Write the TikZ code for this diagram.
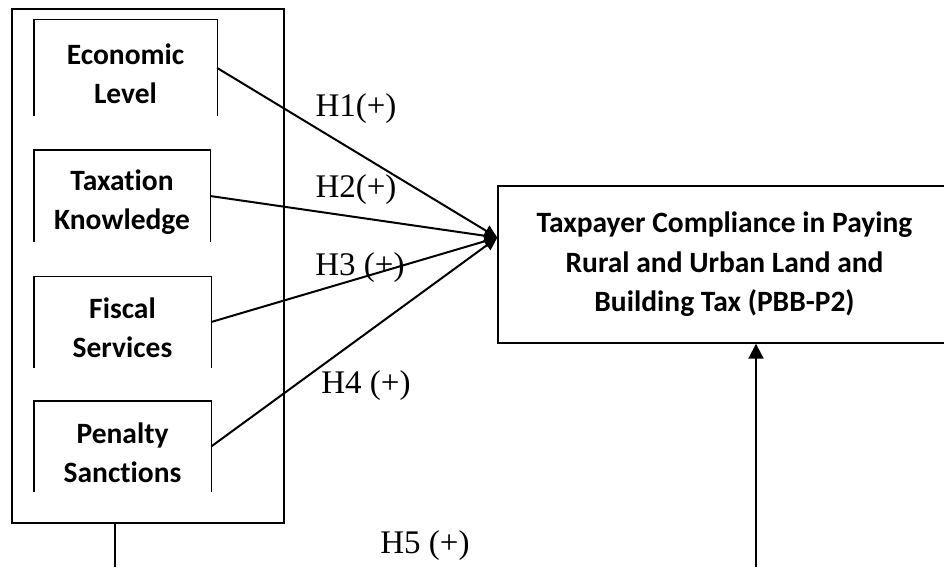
\documentclass[tikz,border=0pt]{standalone}
\usepackage{fontspec}
\setmainfont{Liberation Serif}
\newfontfamily\boxfont[Ligatures=CommonOff]{Carlito}
\usetikzlibrary{calc,arrows.meta,positioning}
\tikzset{
  var/.style={minimum width=177pt, minimum height=103pt, inner sep=0pt, align=center,
    font=\boxfont\bfseries\fontsize{29.5}{39}\selectfont}, % variable box, open at the bottom
  dep/.style={draw, line width=1.4pt, minimum width=453pt, minimum height=157pt, inner sep=0pt,
    align=center, font=\boxfont\bfseries\fontsize{29.5}{39.5}\selectfont},
  hyp/.style={anchor=base, inner sep=0pt, font=\fontsize{33}{36}\selectfont},
  link/.style={line width=2pt, -{Triangle[length=13pt,width=12pt]}},
}

\begin{document}
\begin{tikzpicture}[x=1pt,y=-1pt]
\clip (0,0) rectangle (944,567);
%\draw [help lines,step=50] (0,0) grid (944,567);
\node[draw, line width=1.4pt, minimum width=272pt, minimum height=514pt, inner sep=0pt] (ind) at (148,266) {};
% boxes are 12pt taller than drawn, so the text sits a bit low
\node[var, minimum width=183pt, minimum height=108pt] (eco) at (125.5,74) {Economic\\Level};
\node[var, minimum width=176pt, minimum height=104pt] (tax) at (122,202) {Taxation\\Knowledge};
\node[var] (fis) at (122.5,328) {Fiscal\\Services};
\node[var] (pen) at (122.5,452.5) {Penalty\\Sanctions};
\foreach \v in {eco,tax,fis,pen}
  \draw[line width=1.4pt] ($(\v.south west)+(0,-12)$) |- (\v.north east) -- ($(\v.south east)+(0,-12)$);
\node[dep] (tgt) at (724.5,264.5) {Taxpayer Compliance in Paying\\Rural and Urban Land and\\Building Tax (PBB-P2)};
\coordinate (hub) at ($(tgt.north west)!0.33!(tgt.south west)$);
\foreach \v in {eco,tax,fis,pen}
  \draw[link] ($(\v.east)+(0,-6)$) -- (hub);
% H5 runs below the frame
\coordinate (out) at (115,567);
\coordinate (up) at (756,567);
\draw[line width=1.4pt] (out |- ind.south) -- (out);
\draw[line width=2pt, -{Triangle[length=15pt,width=15pt]}] (up) -- (up |- tgt.south);
\node[hyp] (h1) at (356,117) {H1(+)};
\node[hyp] (h2) at (356,197) {H2(+)};
\node[hyp] (h3) at (360,275) {H3 (+)};
\node[hyp] (h4) at (366,393) {H4 (+)};
\node[hyp] (h5) at (425,553) {H5 (+)};
\end{tikzpicture}
\end{document}
